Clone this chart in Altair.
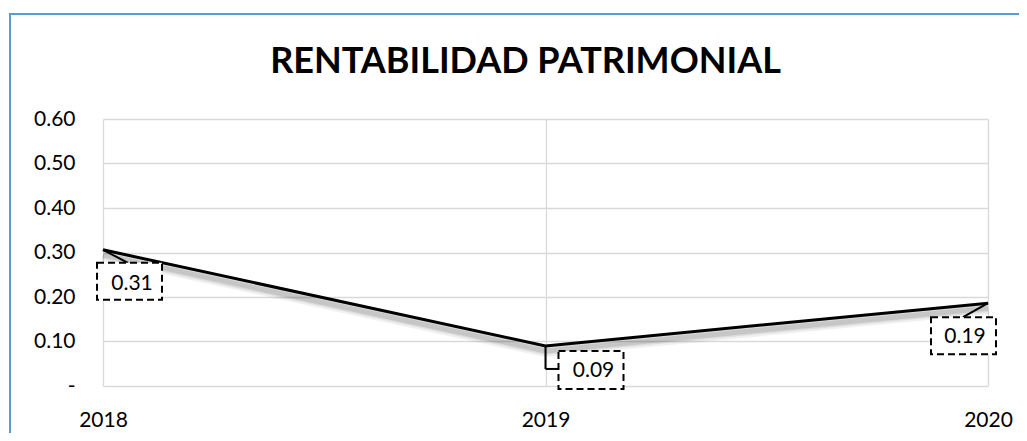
import altair as alt
import pandas as pd

years = ["2018", "2019", "2020"]
values = [0.306, 0.090, 0.186]
labels = ["0.31", "0.09", "0.19"]
y_ticks = [0.0, 0.1, 0.2, 0.3, 0.4, 0.5, 0.6]

df = pd.DataFrame({"year": years, "value": values, "label": labels})

FONT = "Lato"
FS = 21

x_enc = alt.X("year:O", scale=alt.Scale(type="point", padding=0, domain=years),
              axis=alt.Axis(title=None, labelAngle=0, domain=False, ticks=False, tickSize=0,
                            labelPadding=23, labelFlush=False, labelOverlap=False, labelBound=False,
                            labelFontSize=FS, labelFont=FONT, labelColor="black",
                            grid=True, gridColor="#d9d9d9", gridWidth=1.3))
y_enc = alt.Y("value:Q", scale=alt.Scale(domain=[0, 0.6], nice=False),
              axis=alt.Axis(values=y_ticks, title=None, domain=False, ticks=False, tickSize=0,
                            labelPadding=28, labelFontSize=FS, labelFont=FONT, labelColor="black",
                            labelOverlap=False, labelFlush=False,
                            labelExpr="datum.value == 0 ? '-\u00a0\u00a0\u00a0' : format(datum.value, '.2f')",
                            grid=True, gridColor="#d9d9d9", gridWidth=1.3))

base = alt.Chart(df)

border = base.mark_rect(fill="white", fillOpacity=0, stroke="#5B9BD5", strokeWidth=2).encode(
    x=alt.value(-93), y=alt.value(-105), x2=alt.value(1200), y2=alt.value(600))

shadows = [
    base.mark_line(color="#000000", opacity=op, strokeWidth=w, yOffset=5).encode(x=x_enc, y=y_enc)
    for op, w in [(0.06, 12), (0.08, 8), (0.10, 5)]
]
line = base.mark_line(color="black", strokeWidth=3).encode(x=x_enc, y=y_enc)

# label placement offsets (pixels relative to each point)
place = {
    "2018": dict(x0=-6, x1=59, y0=13, y1=50, dx=29, dy=34, lead=[(0, 0, 25, 13)]),
    "2019": dict(x0=13, x1=78, y0=5, y1=43, dx=48, dy=25, lead=[(0, 0, 0, 23), (0, 23, 13, 23)]),
    "2020": dict(x0=-57, x1=8, y0=14, y1=51, dx=-23, dy=34, lead=[(0, 0, -25, 14)]),
}

label_layers = []
for yr, p in place.items():
    sub = base.transform_filter(alt.datum.year == yr)
    for (ax, ay, bx, by) in p["lead"]:
        label_layers.append(sub.mark_rule(color="black", strokeWidth=2, xOffset=ax, yOffset=ay,
                                          x2Offset=bx, y2Offset=by).encode(
            x=x_enc, x2="year", y=y_enc, y2="value:Q"))
    label_layers.append(sub.mark_rect(fill="white", stroke="black", strokeWidth=2, strokeDash=[7, 4],
                                      xOffset=p["x0"], x2Offset=p["x1"],
                                      yOffset=p["y0"], y2Offset=p["y1"]).encode(
        x=x_enc, x2="year", y=y_enc, y2="value:Q"))
    label_layers.append(sub.mark_text(dx=p["dx"], dy=p["dy"], align="center", baseline="middle",
                                      fontSize=FS, font=FONT, color="black").encode(
        x=x_enc, y=y_enc, text="label:N"))

chart = alt.layer(border, *shadows, line, *label_layers).properties(
    width=885, height=267,
    autosize=alt.AutoSizeParams(type="none"),
    padding={"left": 95, "top": 111, "right": 31, "bottom": 47},
    background="white",
    title=alt.TitleParams("RENTABILIDAD PATRIMONIAL", fontSize=36, font=FONT, fontWeight="bold",
                          color="black", anchor="middle", dx=-20, offset=-96, baseline="alphabetic"),
).configure_view(stroke=None)

chart.save("out.html", embed_options={"renderer": "svg", "actions": False})
